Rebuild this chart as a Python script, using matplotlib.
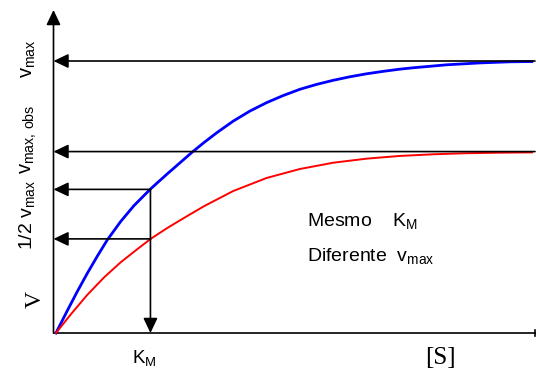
import matplotlib
matplotlib.use('Agg')
import matplotlib.pyplot as plt

plt.rcParams['font.family'] = ['Liberation Sans', 'DejaVu Sans']
plt.rcParams['mathtext.fontset'] = 'custom'
plt.rcParams['mathtext.rm'] = 'Liberation Sans'
plt.rcParams['mathtext.it'] = 'Liberation Sans:italic'

# substrato em unidades de K_M, velocidade em unidades de v_max
s_blue = [0, 0.120, 0.225, 0.331, 0.437, 0.543, 0.685, 0.825, 1.002, 1.178,
          1.320, 1.442, 1.566, 1.701, 1.876, 2.053, 2.230, 2.405, 2.582, 2.759,
          2.934, 3.111, 3.288, 3.464, 3.640, 3.778, 4.134, 4.487, 4.804, 5.037]
v_blue = [0, 0.082, 0.152, 0.219, 0.282, 0.342, 0.410, 0.468, 0.530, 0.585,
          0.628, 0.665, 0.700, 0.736, 0.779, 0.816, 0.847, 0.873, 0.896, 0.914,
          0.929, 0.942, 0.953, 0.962, 0.970, 0.975, 0.986, 0.993, 0.997, 0.998]
s_red = [0, 0.156, 0.331, 0.508, 0.685, 0.860, 1.002, 1.178, 1.389, 1.566,
         1.876, 2.230, 2.582, 2.934, 3.288, 3.640, 3.989, 4.339, 4.698, 5.037]
v_red = [0, 0.068, 0.140, 0.204, 0.260, 0.308, 0.346, 0.386, 0.430, 0.466,
         0.522, 0.570, 0.603, 0.626, 0.641, 0.651, 0.657, 0.661, 0.663, 0.664]

km = 1.0
vmax = 1.0
vmax_obs = 0.667
half_vmax = 0.528
half_vmax_obs = 0.346

xmin, xmax = -0.026, 5.07
ymin, ymax = 0, 1.1875

fig = plt.figure(figsize=(5.36, 3.74), dpi=100)
ax = fig.add_axes([53.5 / 536, 1 - 333 / 374, (535 - 53.5) / 536, (333 - 10) / 374])
ax.set_xlim(xmin, xmax)
ax.set_ylim(ymin, ymax)
ax.axis('off')

arrow = dict(arrowstyle='-|>,head_length=0.9,head_width=0.43', color='black',
             lw=1.2, shrinkA=0, shrinkB=0, mutation_scale=10)

# eixos
ax.annotate('', xy=(xmin, ymax), xytext=(xmin, 0), arrowprops=arrow)
ax.plot([xmin, xmax], [0, 0], color='black', lw=1.2, clip_on=False)
ax.plot([xmax, xmax], [-0.012, 0.012], color='black', lw=1.2, clip_on=False)

# setas horizontais
ax.annotate('', xy=(xmin, vmax), xytext=(xmax, vmax), arrowprops=arrow)
ax.annotate('', xy=(xmin, vmax_obs), xytext=(xmax, vmax_obs), arrowprops=arrow)
ax.annotate('', xy=(xmin, half_vmax), xytext=(km, half_vmax), arrowprops=arrow)
ax.annotate('', xy=(xmin, half_vmax_obs), xytext=(km, half_vmax_obs), arrowprops=arrow)
# seta vertical em K_M
ax.annotate('', xy=(km, 0), xytext=(km, half_vmax), arrowprops=arrow)

# curvas
ax.plot(s_blue, v_blue, color='#0000ff', lw=2.0, clip_on=False, solid_joinstyle='round')
ax.plot(s_red, v_red, color='#ff0000', lw=1.4, clip_on=False, solid_joinstyle='round')

def fx(px):
    return px / 536

def fy(py):
    return 1 - py / 374

# rotulos do eixo y
fig.text(fx(35), fy(300), 'V', family='Liberation Serif', fontsize=17,
         rotation=90, ha='center', va='center')
fig.text(fx(27), fy(215), r'1/2 $\mathrm{v_{max}}$', fontsize=14,
         rotation=90, ha='center', va='center')
fig.text(fx(29), fy(139), r'$\mathrm{v_{max,\,obs}}$', fontsize=14.5,
         rotation=90, ha='center', va='center')
fig.text(fx(29), fy(59), r'$\mathrm{v_{max}}$', fontsize=14.5,
         rotation=90, ha='center', va='center')

# rotulos do eixo x
fig.text(fx(144), fy(358), r'$\mathrm{K_M}$', fontsize=13.5, ha='center', va='center')
fig.text(fx(440), fy(358), '[S]', family='Liberation Serif', fontsize=18,
         ha='center', va='center')

# legenda no grafico
fig.text(fx(307), fy(226), r'Mesmo    $\mathrm{K_M}$', fontsize=14, ha='left', va='baseline')
fig.text(fx(307), fy(261), r'Diferente  $\mathrm{v_{max}}$', fontsize=14, ha='left', va='baseline')

fig.savefig('out.png', dpi=100)
